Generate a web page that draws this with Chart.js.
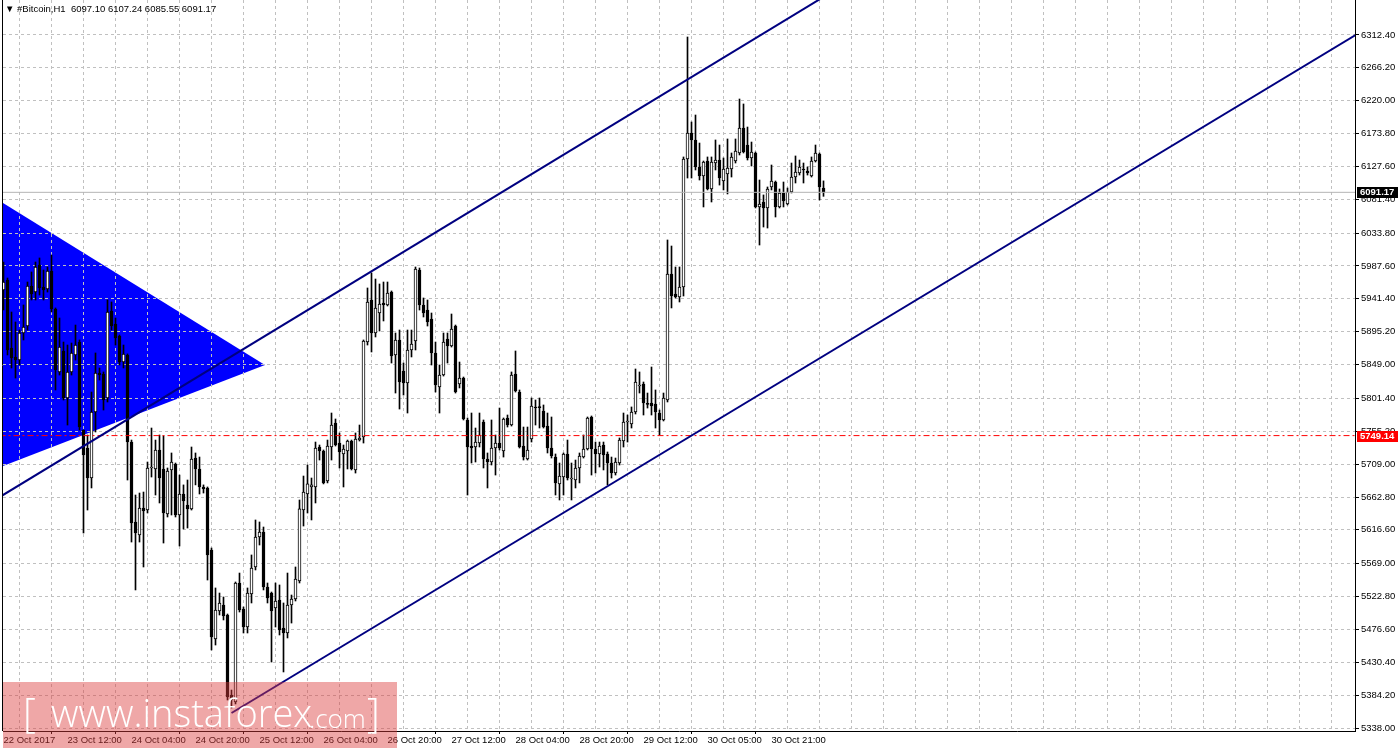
<!DOCTYPE html>
<html><head><meta charset="utf-8">
<script src="https://cdn.jsdelivr.net/npm/chart.js@4.4.1/dist/chart.umd.min.js"></script>
<style>
html,body{margin:0;padding:0;background:#fff;}
#wrap{position:relative;width:1398px;height:751px;overflow:hidden;background:#fff;}
#c{position:absolute;left:0;top:0;}
#hdr{position:absolute;left:5px;top:3px;font:9.5px "Liberation Sans",Arial,sans-serif;color:#000;white-space:pre;line-height:12px;}
#wm{position:absolute;left:3px;top:682px;width:394px;height:66px;background:rgba(220,60,60,0.45);}
#wm span{position:absolute;color:#fff;font-family:"Open Sans","Liberation Sans",sans-serif;font-weight:300;white-space:pre;}
</style></head>
<body><div id="wrap"><canvas id="c" width="1398" height="751"></canvas>
<div id="hdr"></div>
<div id="wm"><span style="left:20px;top:5px;font-size:40px;line-height:50px;">[</span><span style="left:48px;top:5px;font-size:38px;line-height:50px;">www.instaforex</span><span style="left:306px;top:16px;font-size:26px;line-height:40px;">.com</span><span style="left:364px;top:5px;font-size:40px;line-height:50px;">]</span></div>
</div>
<script>
const symbolTitle = '#Bitcoin,H1';
const xTickLabels = ['22 Oct 2017','23 Oct 12:00','24 Oct 04:00','24 Oct 20:00','25 Oct 12:00','26 Oct 04:00','26 Oct 20:00','27 Oct 12:00','28 Oct 04:00','28 Oct 20:00','29 Oct 12:00','30 Oct 05:00','30 Oct 21:00'];
const yTicks = [5338.00,5384.20,5430.40,5476.60,5522.80,5569.00,5616.60,5662.80,5709.00,5755.20,5801.40,5849.00,5895.20,5941.40,5987.60,6033.80,6081.40,6127.60,6173.80,6220.00,6266.20,6312.40];

const open = [5953.9,5967.9,5872.3,5859.7,5855.4,5893.4,5903.2,5959.5,5951.0,5989.0,5958.1,5955.3,5980.6,5927.1,5838.6,5868.1,5802.0,5838.6,5862.5,5880.7,
5757.0,5731.7,5689.5,5782.3,5837.2,5835.8,5802.0,5924.3,5906.1,5889.2,5852.6,5862.5,5740.1,5627.7,5609.4,5647.4,5644.5,5703.6,5702.2,5728.9,
5702.2,5638.9,5700.8,5709.2,5637.5,5667.0,5651.6,5646.0,5717.6,5702.2,5676.9,5675.5,5588.3,5463.2,5502.5,5511.0,5496.9,5384.4,5374.6,5541.9,
5505.3,5480.0,5526.4,5564.4,5606.6,5613.6,5536.3,5527.8,5506.8,5518.0,5478.6,5471.6,5511.0,5519.4,5544.7,5644.5,5667.0,5676.9,5676.9,5733.1,
5727.5,5685.3,5733.1,5766.9,5738.7,5723.3,5727.5,5741.5,5700.8,5742.9,5747.2,5880.7,5939.8,5893.4,5921.5,5935.6,5932.8,5951.0,5862.5,5883.6,
5840.0,5823.1,5869.5,5882.1,5982.0,5932.8,5925.7,5913.1,5865.3,5817.5,5834.3,5885.0,5875.1,5903.2,5821.7,5830.1,5771.1,5734.5,5733.1,5738.7,
5768.3,5716.2,5712.0,5731.7,5738.7,5727.5,5773.9,5764.0,5835.8,5810.4,5734.5,5716.2,5744.4,5789.4,5789.4,5783.7,5762.6,5731.7,5719.0,5681.2,
5690.9,5723.3,5688.1,5686.7,5703.6,5719.0,5730.3,5775.3,5730.3,5723.3,5735.9,5723.3,5710.6,5696.5,5710.6,5741.5,5768.3,5765.4,5782.3,5818.9,
5821.7,5793.6,5795.0,5793.6,5780.9,5771.1,5799.2,5976.4,5948.2,5944.0,5958.1,6138.0,6174.6,6164.8,6126.8,6114.1,6135.2,6095.9,6132.4,6136.6,
6107.1,6116.9,6124.0,6135.2,6146.5,6181.6,6157.7,6139.5,6146.5,6070.6,6077.6,6069.2,6098.7,6105.7,6070.6,6090.3,6074.8,6091.7,6112.7,6118.4,
6124.0,6121.2,6114.1,6135.2,6145.1,6097.10];
const high = [5993.2,5970.7,5922.9,5908.9,5897.6,5932.8,5965.1,5979.2,5993.2,5998.9,5982.0,5986.2,6003.1,5928.6,5914.5,5880.7,5876.5,5879.3,5904.6,5883.6,
5757.0,5750.0,5810.4,5865.3,5844.2,5838.6,5939.8,5937.0,5914.5,5890.6,5876.5,5864.0,5742.9,5665.6,5668.4,5669.8,5712.0,5759.8,5742.9,5750.0,
5748.6,5703.6,5724.7,5710.6,5693.7,5679.8,5686.7,5733.1,5724.7,5719.0,5679.8,5676.9,5591.1,5534.9,5527.8,5522.2,5498.3,5391.4,5543.3,5555.9,
5508.2,5534.9,5581.3,5630.5,5627.7,5620.6,5541.9,5529.2,5541.9,5539.1,5513.8,5555.9,5525.0,5564.4,5658.6,5692.3,5707.8,5689.5,5740.1,5735.9,
5728.9,5742.9,5780.9,5772.5,5752.8,5735.9,5742.9,5742.9,5752.8,5764.0,5883.6,5956.7,5977.8,5969.3,5962.3,5965.1,5965.1,5952.5,5893.4,5897.6,
5851.2,5897.6,5897.6,5986.2,5984.8,5942.6,5939.8,5921.5,5880.7,5848.4,5893.4,5893.4,5920.1,5904.6,5852.6,5831.5,5773.9,5780.9,5759.8,5780.9,
5771.1,5724.7,5771.1,5750.0,5787.9,5773.9,5778.1,5838.6,5868.1,5813.3,5761.2,5761.2,5802.0,5799.2,5802.0,5792.2,5780.9,5775.3,5723.3,5710.6,
5724.7,5742.9,5710.6,5714.8,5724.7,5750.0,5775.3,5776.7,5740.1,5740.1,5740.1,5726.1,5719.0,5717.6,5745.8,5780.9,5778.1,5789.4,5842.8,5838.6,
5824.5,5809.0,5845.6,5813.3,5785.1,5809.0,6024.2,6015.7,5986.2,5986.2,6140.9,6309.6,6190.1,6199.9,6160.5,6135.2,6140.9,6140.9,6164.8,6157.7,
6139.5,6166.2,6146.5,6166.2,6222.4,6215.4,6183.0,6161.9,6147.9,6108.5,6087.5,6098.7,6129.6,6107.1,6095.9,6105.7,6097.3,6132.4,6142.3,6136.6,
6132.4,6126.8,6140.9,6157.7,6146.5,6107.24];
const low = [5925.7,5862.5,5844.2,5830.1,5848.4,5883.6,5897.6,5939.8,5939.8,5946.8,5939.8,5951.0,5922.9,5813.3,5834.3,5799.2,5764.0,5834.3,5855.4,5757.0,
5612.2,5644.5,5675.5,5754.2,5827.3,5785.1,5796.4,5897.6,5876.5,5848.4,5844.2,5686.7,5599.5,5532.1,5599.5,5564.4,5640.3,5690.9,5665.6,5654.4,
5598.1,5634.7,5637.5,5634.7,5593.9,5617.8,5619.2,5644.5,5679.8,5667.0,5668.4,5546.1,5447.7,5454.7,5496.9,5489.9,5377.4,5366.1,5371.8,5501.1,
5471.6,5471.6,5513.8,5560.2,5595.3,5532.1,5513.8,5430.8,5480.0,5468.8,5416.8,5464.6,5485.6,5516.6,5541.9,5622.0,5640.3,5630.5,5654.4,5714.8,
5681.2,5682.6,5714.8,5734.5,5703.6,5676.9,5702.2,5700.8,5696.5,5741.5,5738.7,5876.5,5866.7,5887.8,5896.2,5910.3,5931.4,5851.2,5809.0,5786.5,
5806.2,5780.9,5859.7,5869.5,5925.7,5915.9,5903.2,5848.4,5810.4,5780.9,5832.9,5851.2,5873.7,5809.0,5816.1,5771.1,5665.6,5710.6,5712.0,5733.1,
5703.6,5675.5,5707.8,5693.7,5728.9,5719.0,5761.2,5762.6,5810.4,5731.7,5714.8,5714.8,5740.1,5764.0,5759.8,5759.8,5724.7,5717.6,5665.6,5658.6,
5665.6,5686.7,5658.6,5675.5,5682.6,5717.6,5728.9,5693.7,5696.5,5705.0,5700.8,5679.8,5689.5,5693.7,5707.8,5733.1,5740.1,5759.8,5779.5,5809.0,
5778.1,5787.9,5778.1,5759.8,5750.0,5769.7,5796.4,5928.6,5942.6,5937.0,5945.4,6111.3,6111.3,6122.6,6108.5,6070.6,6094.5,6077.6,6122.6,6101.4,
6094.5,6088.9,6112.7,6132.4,6143.7,6146.5,6136.6,6128.2,6069.2,6017.1,6042.4,6041.0,6094.5,6056.5,6069.2,6070.6,6073.4,6090.3,6104.3,6115.5,
6104.3,6115.5,6112.7,6133.8,6080.4,6085.55];
const close = [5965.1,5869.5,5858.3,5855.4,5893.4,5901.8,5959.5,5948.2,5986.2,5956.7,5953.9,5980.6,5927.1,5841.4,5873.7,5802.0,5838.6,5865.3,5876.5,5761.2,
5721.9,5689.5,5782.3,5837.2,5834.3,5799.2,5922.9,5903.2,5886.4,5852.6,5863.9,5740.1,5626.3,5612.2,5647.4,5643.1,5703.6,5705.0,5728.9,5689.5,
5640.3,5699.4,5712.0,5637.5,5667.0,5657.2,5646.0,5716.2,5702.2,5676.9,5674.1,5581.3,5466.0,5503.9,5513.8,5495.5,5381.6,5377.4,5541.9,5503.9,
5480.0,5527.8,5563.0,5606.6,5613.6,5536.3,5520.8,5502.5,5516.6,5475.8,5471.6,5511.0,5519.4,5547.5,5646.0,5669.8,5681.2,5679.8,5731.7,5727.5,
5682.6,5734.5,5764.0,5735.9,5726.1,5730.3,5741.5,5702.2,5744.4,5745.8,5882.1,5937.0,5893.4,5928.6,5934.2,5932.8,5949.6,5861.1,5883.6,5824.5,
5823.1,5869.5,5877.9,5983.4,5932.8,5921.5,5908.9,5865.3,5820.3,5834.3,5880.7,5875.1,5899.0,5810.4,5830.1,5772.5,5733.1,5731.7,5740.1,5750.0,
5716.2,5712.0,5731.7,5738.7,5731.7,5772.5,5764.0,5834.3,5811.8,5733.1,5719.0,5728.9,5790.8,5787.9,5788.5,5761.2,5731.7,5720.5,5682.6,5692.3,
5723.3,5689.5,5689.5,5703.6,5720.5,5730.3,5773.9,5730.3,5723.3,5734.5,5721.9,5710.6,5696.5,5712.0,5742.9,5768.3,5769.7,5782.3,5824.5,5820.3,
5795.0,5793.0,5790.8,5782.3,5771.1,5802.0,5976.4,5945.4,5944.0,5958.1,6138.0,6174.6,6164.8,6126.8,6114.1,6133.8,6095.9,6133.8,6136.6,6111.3,
6124.0,6125.4,6140.9,6149.3,6181.6,6147.9,6139.5,6147.9,6070.6,6074.8,6069.2,6095.9,6107.1,6070.6,6090.3,6079.0,6091.7,6112.7,6119.8,6126.8,
6122.6,6118.4,6135.2,6146.5,6098.7,6091.17];

const bidPrice = 6091.17;
const levelPrice = 5749.14;
const upperChannel = [{x:-1, y:5662.6}, {x:220, y:6417.1}];
const lowerChannel = [{x:57, y:5359.1}, {x:340, y:6319.0}];
const triangleTop = [{x:-0.125, y:6076.2}, {x:65.4, y:5848.4}];
const triangleBottom = [{x:-0.125, y:5706.4}, {x:65.4, y:5848.4}];

const FONT = {family:'"Liberation Sans", Arial, sans-serif', size:9.5};
const last = close.length - 1;
document.getElementById('hdr').textContent = '\u25BC ' + symbolTitle + '  ' + [open[last], high[last], low[last], close[last]].map(v => v.toFixed(2)).join(' ');

const frame = {
  id:'frame',
  afterDraw(chart){
    const {ctx, chartArea:a, scales:{y}} = chart;
    ctx.save();
    ctx.strokeStyle = '#000'; ctx.lineWidth = 1;
    ctx.beginPath(); ctx.moveTo(a.left - 0.5, a.top); ctx.lineTo(a.left - 0.5, a.bottom); ctx.stroke();
    const tag = (price, bg) => {
      const py = Math.round(y.getPixelForValue(price));
      ctx.fillStyle = bg; ctx.fillRect(a.right + 2, py - 5, 41, 11);
      ctx.fillStyle = '#fff'; ctx.font = 'bold 9.5px "Liberation Sans", Arial, sans-serif';
      ctx.textBaseline = 'middle'; ctx.textAlign = 'left';
      ctx.fillText(price.toFixed(2), a.right + 5, py + 0.5);
    };
    tag(bidPrice, '#000');
    tag(levelPrice, '#ff0000');
    ctx.restore();
  }
};

const idx = close.map((_, i) => i);
new Chart(document.getElementById('c'), {
  type:'bar',
  data:{datasets:[
    {type:'bar', data:idx.map(i => ({x:i, y:[low[i], high[i]]})), backgroundColor:'#000', borderWidth:0, barThickness:1, grouped:false, order:4},
    {type:'line', data:triangleTop, borderWidth:0, pointRadius:0, fill:false, order:5, clip:0},
    {type:'line', data:triangleBottom, borderWidth:0, pointRadius:0, fill:'-1', backgroundColor:'#0000ff', order:5, clip:0},
    {type:'bar', data:idx.map(i => ({x:i, y:[open[i], close[i]]})), backgroundColor:idx.map(i => close[i] >= open[i] ? '#fff' : '#000'), borderColor:'#000', borderWidth:1, borderSkipped:false, barThickness:3, minBarLength:1, grouped:false, order:3},
    {type:'line', data:[{x:-1, y:bidPrice}, {x:340, y:bidPrice}], borderColor:'#b4b4b4', borderWidth:1, pointRadius:0, fill:false, order:2, clip:0},
    {type:'line', data:[{x:-1, y:levelPrice}, {x:340, y:levelPrice}], borderColor:'#ff0000', borderWidth:1, borderDash:[6,3,2,3], pointRadius:0, fill:false, order:2, clip:0},
    {type:'line', data:upperChannel, borderColor:'#000080', borderWidth:2, pointRadius:0, fill:false, order:1, clip:0},
    {type:'line', data:lowerChannel, borderColor:'#000080', borderWidth:2, pointRadius:0, fill:false, order:1, clip:0}
  ]},
  options:{
    responsive:false, devicePixelRatio:1, animation:false,
    layout:{padding:{left:3, top:0, right:0, bottom:0}},
    plugins:{legend:{display:false}, tooltip:{enabled:false}, filler:{drawTime:'beforeDraw'}},
    scales:{
      x:{type:'linear', min:-0.125, max:337.875, offset:false, position:'bottom',
        afterBuildTicks:s => { const t = []; for (let v = 0; v <= 336; v += 8) t.push({value:v}); s.ticks = t; },
        afterFit:s => { s.height = 20; s.paddingLeft = 0; s.paddingRight = 0; },
        grid:{color:'#c0c0c0', lineWidth:1, drawTicks:true, tickLength:3,
          tickColor:c => (c.tick && c.tick.value % 16 === 0 && xTickLabels[c.tick.value / 16]) ? '#000' : 'rgba(0,0,0,0)'},
        border:{display:true, color:'#000', width:1, dash:[3,3]},
        ticks:{autoSkip:false, maxRotation:0, minRotation:0, align:'start', padding:1, color:'#000', font:FONT,
          callback:v => (v % 16 === 0 && xTickLabels[v / 16]) || ''}
      },
      y:{type:'linear', position:'right', min:5333.8, max:6361.6,
        afterBuildTicks:s => { s.ticks = yTicks.map(v => ({value:v})); },
        afterFit:s => { s.width = 43; s.paddingTop = 0; s.paddingBottom = 0; },
        grid:{color:'#c0c0c0', lineWidth:1, tickLength:4, tickColor:'#000'},
        border:{display:true, color:'#000', width:1, dash:[3,3]},
        ticks:{padding:2, color:'#000', font:FONT, callback:v => Number(v).toFixed(2)}
      }
    }
  },
  plugins:[frame]
});
</script></body></html>
